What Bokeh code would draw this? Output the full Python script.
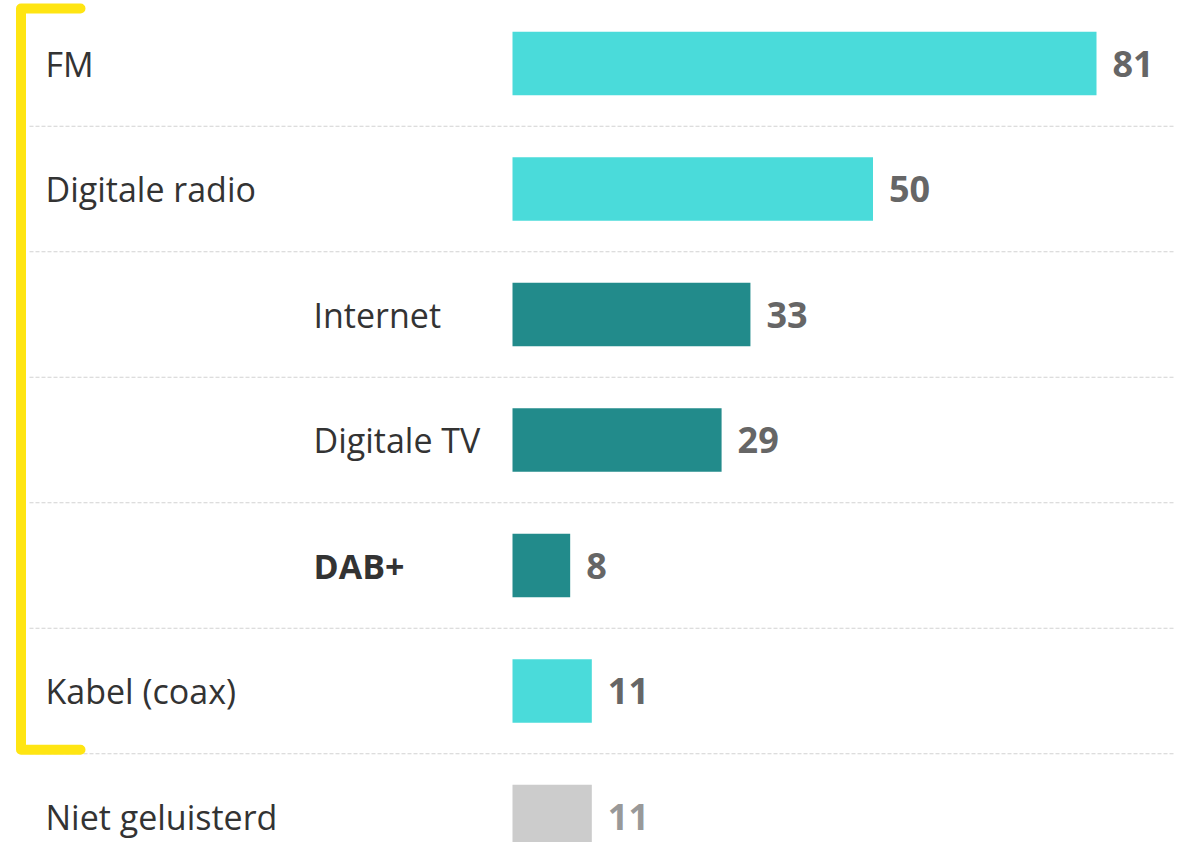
from bokeh.plotting import figure
from bokeh.models import Range1d, ColumnDataSource
from bokeh.core.properties import value
from bokeh.embed import file_html
from bokeh.resources import INLINE

categories = ["FM", "Digitale radio", "Internet", "Digitale TV", "DAB+", "Kabel (coax)", "Niet geluisterd"]
values = [81, 50, 33, 29, 8, 11, 11]
level = [0, 0, 1, 1, 1, 0, 0]          # 1 = sub-category of digitale radio
bold = [False, False, False, False, True, False, False]
kind = ["main", "main", "sub", "sub", "sub", "main", "none"]

bar_colors = {"main": "#4ADBDA", "sub": "#228B8B", "none": "#CCCCCC"}
val_colors = {"main": "#666666", "sub": "#666666", "none": "#999999"}

W, H = 1175, 842
PX_PER_UNIT = 7.21
ROW_PX = 125.5
ZERO_X = 512.0        # px from figure left where value 0 lies
FIRST_ROW_Y = 63.0    # px from figure top of first row centre

x0 = -ZERO_X / PX_PER_UNIT
x1 = x0 + W / PX_PER_UNIT
r_top = -FIRST_ROW_Y / ROW_PX
r_bot = r_top + H / ROW_PX

def px_to_x(px):
    return (px - ZERO_X) / PX_PER_UNIT

def py_to_r(py):
    return (py - FIRST_ROW_Y) / ROW_PX

rows = list(range(len(categories)))
src = ColumnDataSource(dict(
    row=rows,
    val=values,
    vtxt=[str(v) for v in values],
    cat=categories,
    color=[bar_colors[k] for k in kind],
    vcolor=[val_colors[k] for k in kind],
    lx=[px_to_x(45) if l == 0 else px_to_x(313) for l in level],
))

p = figure(width=W, height=H, output_backend="svg", toolbar_location=None,
           x_range=Range1d(x0, x1), y_range=Range1d(r_bot, r_top),
           min_border=0, min_border_left=0, min_border_right=0,
           min_border_top=0, min_border_bottom=0)
p.axis.visible = False
p.grid.visible = False
p.outline_line_color = None
p.background_fill_color = "white"
p.border_fill_color = "white"

# dashed separators between rows
seps = [r + 0.5 for r in rows[:-1]]
p.segment(x0=[px_to_x(29)] * len(seps), x1=[x1] * len(seps), y0=seps, y1=seps,
          line_color="#D2D2D2", line_width=1, line_dash="4 2")

# bars
p.hbar(y="row", left=0, right="val", height=0.505, fill_color="color",
       line_color=None, source=src)

# value labels
p.text(x="val", y="row", text="vtxt", x_offset=16,
       text_color="vcolor", text_font=value("Open Sans"), text_font_style="bold",
       text_font_size="36px", text_baseline="middle", text_align="left", source=src)

# category labels
normal_idx = [i for i in rows if not bold[i]]
bold_idx = [i for i in rows if bold[i]]
for idx, style in ((normal_idx, "normal"), (bold_idx, "bold")):
    p.text(x=[src.data["lx"][i] for i in idx], y=[rows[i] for i in idx],
           text=[categories[i] for i in idx], text_color="#333333",
           text_font=value("Open Sans"), text_font_style=style,
           text_font_size="34px", text_baseline="middle", text_align="left")

# yellow bracket around listened categories
bx_v = px_to_x(20.5)
bx_h = px_to_x(80)
by_top = py_to_r(8)
by_bot = py_to_r(FIRST_ROW_Y + 5.5 * ROW_PX - 4)
p.line(x=[bx_h, bx_v, bx_v, bx_h], y=[by_top, by_top, by_bot, by_bot],
       line_color="#FFE512", line_width=10, line_join="round", line_cap="round")

open("out.html", "w").write(file_html(p, INLINE))
